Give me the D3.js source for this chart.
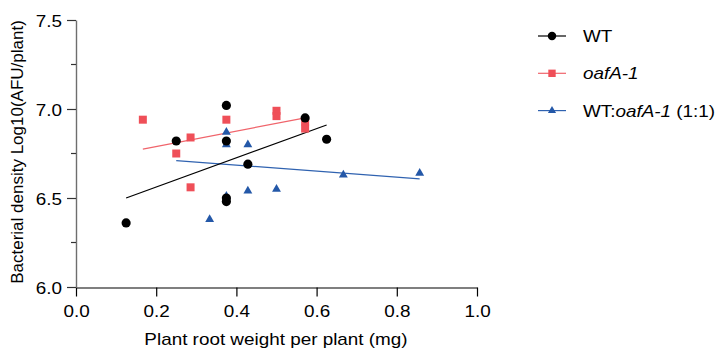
<!DOCTYPE html>
<html>
<head>
<meta charset="utf-8">
<script src="https://cdn.jsdelivr.net/npm/d3@7"></script>
<style>
  html, body { margin: 0; padding: 0; background: #fff; }
  svg { display: block; }
  text { font-family: "Liberation Sans", Arial, sans-serif; fill: #000; }
</style>
</head>
<body>
<svg id="chart" width="719" height="352"></svg>
<script>
// Root weight (mg) and bacterial density (log10 AFU/plant) per plant
const wtX  = [0.125, 0.25, 0.375, 0.375, 0.375, 0.375, 0.4286, 0.5714, 0.625];
const wtY  = [6.36, 6.82, 7.02, 6.82, 6.50, 6.48, 6.69, 6.95, 6.83];
const oafX = [0.1667, 0.25, 0.2857, 0.2857, 0.375, 0.5, 0.5, 0.5714, 0.5714];
const oafY = [6.94, 6.75, 6.84, 6.56, 6.94, 6.99, 6.96, 6.93, 6.89];
const mixX = [0.3333, 0.375, 0.375, 0.375, 0.4286, 0.4286, 0.5, 0.6667, 0.8571];
const mixY = [6.38, 6.87, 6.80, 6.51, 6.80, 6.54, 6.55, 6.63, 6.64];

// Linear regression lines (start and end of each fit)
const wtFitX  = [0.125, 0.625];
const wtFitY  = [6.50, 6.91];
const oafFitX = [0.1667, 0.5714];
const oafFitY = [6.775, 6.95];
const mixFitX = [0.25, 0.857];
const mixFitY = [6.71, 6.607];

// Axis ticks
const xTicks = [0, 0.2, 0.4, 0.6, 0.8, 1.0];
const yTicks = [6.0, 6.5, 7.0, 7.5];
const yMinorTicks = [6.25, 6.75, 7.25];

const series = [
  { name: "WT:oafA-1 (1:1)", x: mixX, y: mixY, fx: mixFitX, fy: mixFitY,
    fill: "#2458a8", line: "#2f62b0", shape: d3.symbolTriangle, size: 34 },
  { name: "oafA-1", x: oafX, y: oafY, fx: oafFitX, fy: oafFitY,
    fill: "#ef4f58", line: "#f0646b", shape: d3.symbolSquare, size: 64 },
  { name: "WT", x: wtX, y: wtY, fx: wtFitX, fy: wtFitY,
    fill: "#000000", line: "#000000", shape: d3.symbolCircle, size: 66 }
];

const STRETCH = 1.11;
const svg = d3.select("#chart");

const x = d3.scaleLinear().domain([0, 1]).range([76, 477]);
const y = d3.scaleLinear().domain([6, 7.5]).range([287, 20]);

// Fit lines
series.forEach(s => {
  svg.append("line")
    .attr("x1", x(s.fx[0])).attr("y1", y(s.fy[0]))
    .attr("x2", x(s.fx[1])).attr("y2", y(s.fy[1]))
    .attr("stroke", s.line).attr("stroke-width", 1.2);
});

// Points
series.forEach(s => {
  svg.append("g").selectAll("path")
    .data(s.x.map((v, i) => [v, s.y[i]]))
    .join("path")
    .attr("d", d3.symbol().type(s.shape).size(s.size))
    .attr("transform", d => `translate(${x(d[0])},${y(d[1])})`)
    .attr("fill", s.fill);
});

// X axis
const gx = svg.append("g")
  .attr("transform", "translate(0,287.5)")
  .call(d3.axisBottom(x).tickValues(xTicks).tickFormat(d3.format(".1f"))
    .tickSize(9).tickPadding(8).tickSizeOuter(0));
gx.select(".domain").attr("stroke", "#000").attr("stroke-width", 1.2);
gx.selectAll(".tick line").attr("stroke", "#000").attr("stroke-width", 1.2);
gx.selectAll(".tick text").attr("font-size", 17).attr("font-family", null).attr("dy", "0.72em");

// Y axis
const gy = svg.append("g")
  .attr("transform", "translate(76,0)")
  .call(d3.axisLeft(y).tickValues(yTicks).tickFormat(d3.format(".1f"))
    .tickSize(9).tickPadding(5).tickSizeOuter(0));
gy.select(".domain").attr("stroke", "#6e6e6e").attr("stroke-width", 1.4);
gy.selectAll(".tick line").attr("stroke", "#333").attr("stroke-width", 1.2);
gy.selectAll(".tick text").attr("font-size", 17).attr("font-family", null).attr("dy", "0.36em");
gy.selectAll(".minor").data(yMinorTicks).join("line")
  .attr("class", "minor")
  .attr("x1", -5).attr("x2", 0)
  .attr("y1", d => y(d)).attr("y2", d => y(d))
  .attr("stroke", "#333").attr("stroke-width", 1.2);

// Axis titles
svg.append("text")
  .attr("class", "wide")
  .attr("x", 276).attr("y", 345)
  .attr("text-anchor", "middle").attr("font-size", 17)
  .text("Plant root weight per plant (mg)");

svg.append("text")
  .attr("transform", "translate(23,152) rotate(-90)")
  .attr("text-anchor", "middle").attr("font-size", 17)
  .text("Bacterial density Log10(AFU/plant)");

// Legend
const legendRows = [
  { s: series[2], parts: [["WT", false]] },
  { s: series[1], parts: [["oafA-1", true]] },
  { s: series[0], parts: [["WT:", false], ["oafA-1", true], [" (1:1)", false]] }
];
const legend = svg.append("g");
legendRows.forEach((r, i) => {
  const cy = 36 + i * 37.3;
  legend.append("line")
    .attr("x1", 538).attr("x2", 566).attr("y1", cy).attr("y2", cy)
    .attr("stroke", r.s.line).attr("stroke-width", 1.2);
  legend.append("path")
    .attr("d", d3.symbol().type(r.s.shape).size(r.s.size * 0.85))
    .attr("transform", `translate(552,${cy})`)
    .attr("fill", r.s.fill);
  const t = legend.append("text")
    .attr("class", "wide")
    .attr("x", 583).attr("y", cy + 6).attr("font-size", 17);
  r.parts.forEach(p => {
    t.append("tspan").attr("font-style", p[1] ? "italic" : "normal").text(p[0]);
  });
});

// Widen horizontal text slightly to match the chart's proportions
svg.selectAll(".tick text, text.wide").each(function () {
  const len = this.getComputedTextLength();
  d3.select(this).attr("textLength", len * STRETCH).attr("lengthAdjust", "spacingAndGlyphs");
});
</script>
</body>
</html>
